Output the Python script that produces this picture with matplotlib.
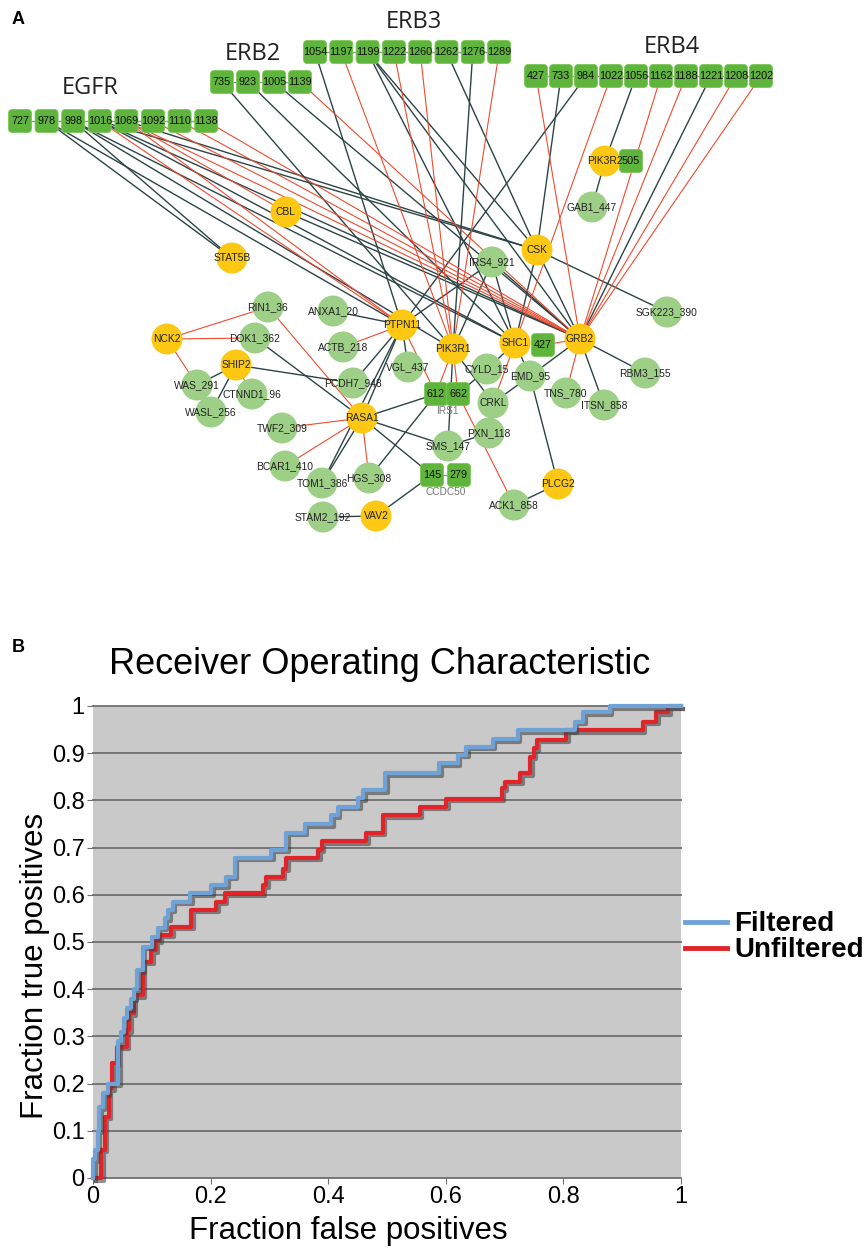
"""
Figure: (A) receptor phosphosite interaction network, (B) ROC of filtered vs unfiltered predictions.
"""
import matplotlib
matplotlib.use('Agg')
import matplotlib.pyplot as plt
import matplotlib.patheffects as pe
from matplotlib.patches import Circle, FancyBboxPatch

# ---------------------------------------------------------------
# Data: ROC curves (fpr where each tpr level starts, steps-post)
# ---------------------------------------------------------------
filt_fpr = [0, 0.0, 0.004, 0.008, 0.011, 0.017, 0.025, 0.043, 0.047, 0.052,
            0.057, 0.065, 0.070, 0.075, 0.085, 0.100, 0.110, 0.122, 0.128, 0.136,
            0.165, 0.201, 0.227, 0.241, 0.303, 0.329, 0.360, 0.405, 0.416, 0.451,
            0.460, 0.497, 0.589, 0.620, 0.635, 0.680, 0.722, 0.819, 0.834, 0.879, 1.0]
filt_tpr = [0, 0.04, 0.06, 0.10, 0.15, 0.18, 0.20, 0.29, 0.31, 0.34,
            0.36, 0.38, 0.40, 0.44, 0.49, 0.51, 0.53, 0.55, 0.568, 0.585,
            0.603, 0.62, 0.638, 0.678, 0.695, 0.731, 0.749, 0.769, 0.787, 0.805,
            0.822, 0.857, 0.879, 0.897, 0.914, 0.93, 0.949, 0.967, 0.987, 1.0, 1.0]

unfilt_fpr = [0, 0.014, 0.020, 0.027, 0.033, 0.040, 0.057, 0.062, 0.069, 0.085,
              0.099, 0.107, 0.113, 0.133, 0.167, 0.210, 0.224, 0.289, 0.295, 0.323,
              0.329, 0.383, 0.389, 0.465, 0.493, 0.556, 0.601, 0.695, 0.700, 0.727,
              0.744, 0.750, 0.755, 0.805, 0.935, 0.958, 0.978, 1.0]
unfilt_tpr = [0, 0.06, 0.13, 0.19, 0.243, 0.278, 0.313, 0.349, 0.387, 0.458,
              0.483, 0.504, 0.515, 0.532, 0.568, 0.585, 0.603, 0.62, 0.638, 0.655,
              0.678, 0.695, 0.713, 0.731, 0.769, 0.787, 0.804, 0.826, 0.840, 0.857,
              0.893, 0.91, 0.928, 0.949, 0.967, 0.987, 1.0, 1.0]

y_ticks = [0, 0.1, 0.2, 0.3, 0.4, 0.5, 0.6, 0.7, 0.8, 0.9, 1]
y_ticklabels = ['0', '0.1', '0.2', '0.3', '0.4', '0.5', '0.6', '0.7', '0.8', '0.9', '1']
x_ticks = [0, 0.2, 0.4, 0.6, 0.8, 1]
x_ticklabels = ['0', '0.2', '0.4', '0.6', '0.8', '1']

# ---------------------------------------------------------------
# Data: network
# ---------------------------------------------------------------
receptors = ['EGFR', 'ERB2', 'ERB3', 'ERB4']
egfr_sites = ['727', '978', '998', '1016', '1069', '1092', '1110', '1138']
erb2_sites = ['735', '923', '1005', '1139']
erb3_sites = ['1054', '1197', '1199', '1222', '1260', '1262', '1276', '1289']
erb4_sites = ['427', '733', '984', '1022', '1056', '1162', '1188', '1221', '1208', '1202']

hub_nodes = ['CBL', 'STAT5B', 'CSK', 'PIK3R2', 'PTPN11', 'PIK3R1', 'SHC1', 'GRB2',
             'NCK2', 'SHIP2', 'RASA1', 'VAV2', 'PLCG2']
partner_nodes = ['GAB1_447', 'IRS4_921', 'SGK223_390', 'RIN1_36', 'ANXA1_20', 'DOK1_362',
                 'ACTB_218', 'VGL_437', 'PCDH7_948', 'CYLD_15', 'EMD_95', 'RBM3_155',
                 'TNS_780', 'ITSN_858', 'CRKL', 'PXN_118', 'SMS_147', 'WAS_291',
                 'CTNND1_96', 'WASL_256', 'TWF2_309', 'BCAR1_410', 'TOM1_386', 'HGS_308',
                 'STAM2_192', 'ACK1_858']
site_nodes = ['PIK3R2_505', 'SHC1_427', 'IRS1_612', 'IRS1_662', 'CCDC50_145', 'CCDC50_279']
site_groups = [('IRS1', 'IRS1_612', 'IRS1_662'), ('CCDC50', 'CCDC50_145', 'CCDC50_279')]

dark_edges = [
    ('EGFR_978', 'STAT5B'), ('EGFR_998', 'STAT5B'), ('EGFR_978', 'PTPN11'),
    ('EGFR_998', 'SHC1'), ('EGFR_998', 'PIK3R1'), ('EGFR_1016', 'SHC1'),
    ('EGFR_1016', 'GRB2'), ('EGFR_1016', 'CSK'), ('EGFR_1069', 'CSK'),
    ('ERB2_735', 'PIK3R1'), ('ERB2_923', 'SHC1'), ('ERB2_1005', 'GRB2'),
    ('ERB3_1054', 'PTPN11'), ('ERB3_1199', 'SHC1'), ('ERB3_1199', 'GRB2'),
    ('ERB3_1199', 'CSK'), ('ERB3_1262', 'CSK'), ('ERB3_1276', 'PIK3R1'),
    ('ERB4_733', 'CSK'), ('ERB4_984', 'PTPN11'), ('ERB4_1056', 'PIK3R2'),
    ('ERB4_1221', 'GRB2'),
    ('CBL', 'GRB2'), ('PIK3R2', 'GAB1_447'), ('CSK', 'SGK223_390'), ('CSK', 'GRB2'),
    ('CSK', 'SHC1'), ('IRS4_921', 'SHC1'), ('IRS4_921', 'GRB2'), ('IRS4_921', 'PTPN11'),
    ('IRS4_921', 'PIK3R1'), ('SHC1', 'CYLD_15'), ('SHC1', 'EMD_95'), ('GRB2', 'EMD_95'),
    ('GRB2', 'ITSN_858'), ('GRB2', 'RBM3_155'), ('PIK3R1', 'CRKL'), ('PIK3R1', 'SMS_147'),
    ('IRS1_662', 'CYLD_15'), ('IRS1_612', 'RASA1'), ('IRS1_612', 'HGS_308'),
    ('PTPN11', 'ANXA1_20'), ('PTPN11', 'VGL_437'), ('PTPN11', 'PCDH7_948'),
    ('PTPN11', 'RASA1'), ('PTPN11', 'TOM1_386'), ('RASA1', 'TOM1_386'),
    ('RASA1', 'SMS_147'), ('RASA1', 'CCDC50_145'), ('RASA1', 'DOK1_362'),
    ('VAV2', 'CCDC50_145'), ('STAM2_192', 'VAV2'), ('CRKL', 'PXN_118'), ('CRKL', 'EMD_95'),
    ('EMD_95', 'PLCG2'), ('PLCG2', 'ACK1_858'), ('SHIP2', 'WAS_291'), ('SHIP2', 'WASL_256'),
    ('SHIP2', 'PCDH7_948'), ('PXN_118', 'SMS_147'),
]
red_edges = [
    ('EGFR_1016', 'PTPN11'), ('EGFR_1069', 'PTPN11'), ('EGFR_1069', 'CBL'),
    ('EGFR_1069', 'GRB2'), ('EGFR_1092', 'GRB2'), ('EGFR_1110', 'GRB2'),
    ('EGFR_1138', 'GRB2'), ('ERB2_1139', 'GRB2'),
    ('ERB3_1197', 'PIK3R1'), ('ERB3_1222', 'PIK3R1'), ('ERB3_1260', 'PIK3R1'),
    ('ERB3_1289', 'PIK3R1'),
    ('ERB4_427', 'GRB2'), ('ERB4_1022', 'SHC1'), ('ERB4_1162', 'GRB2'),
    ('ERB4_1188', 'GRB2'), ('ERB4_1208', 'GRB2'), ('ERB4_1202', 'GRB2'),
    ('SHC1_427', 'GRB2'), ('SHC1', 'CRKL'), ('GRB2', 'TNS_780'),
    ('PIK3R1', 'IRS1_612'), ('PIK3R1', 'IRS1_662'), ('PTPN11', 'IRS1_612'),
    ('PTPN11', 'ACTB_218'), ('IRS1_662', 'ACK1_858'),
    ('RASA1', 'TWF2_309'), ('RASA1', 'BCAR1_410'), ('RASA1', 'HGS_308'),
    ('RASA1', 'RIN1_36'), ('NCK2', 'WAS_291'), ('NCK2', 'RIN1_36'),
    ('NCK2', 'DOK1_362'), ('SHIP2', 'CTNND1_96'),
]

# ---------------------------------------------------------------
# Layout (pixel coordinates of the network panel)
# ---------------------------------------------------------------
row_layout = {  # x of first site, spacing, y
    'EGFR': (20, 26.6, 121), 'ERB2': (222, 26.0, 82),
    'ERB3': (315, 26.3, 52), 'ERB4': (536, 25.0, 76),
}
receptor_label_pos = {'EGFR': (90, 88), 'ERB2': (253, 54), 'ERB3': (414, 22), 'ERB4': (672, 47)}
pos = {
    'CBL': (286, 212), 'STAT5B': (232, 258), 'CSK': (537, 250), 'PIK3R2': (605, 161),
    'GAB1_447': (592, 207), 'IRS4_921': (492, 262), 'SGK223_390': (667, 312),
    'PTPN11': (402, 325), 'PIK3R1': (453, 349), 'SHC1': (515, 343), 'GRB2': (580, 339),
    'RIN1_36': (268, 307), 'ANXA1_20': (333, 311), 'NCK2': (167, 339), 'DOK1_362': (255, 338),
    'ACTB_218': (343, 347), 'SHIP2': (236, 365), 'VGL_437': (408, 367), 'PCDH7_948': (353, 383),
    'CYLD_15': (487, 369), 'EMD_95': (530, 376), 'RBM3_155': (645, 373), 'TNS_780': (566, 393),
    'ITSN_858': (604, 405), 'CRKL': (493, 403), 'PXN_118': (489, 433), 'SMS_147': (448, 446),
    'WAS_291': (197, 385), 'CTNND1_96': (252, 394), 'WASL_256': (211, 412), 'RASA1': (362, 418),
    'TWF2_309': (282, 428), 'BCAR1_410': (285, 466), 'TOM1_386': (322, 483), 'HGS_308': (369, 478),
    'STAM2_192': (323, 517), 'VAV2': (376, 516), 'PLCG2': (558, 484), 'ACK1_858': (514, 505),
    'PIK3R2_505': (631, 161), 'SHC1_427': (543, 345), 'IRS1_612': (436, 394),
    'IRS1_662': (458, 394), 'CCDC50_145': (432, 475), 'CCDC50_279': (459, 475),
}
site_lists = {'EGFR': egfr_sites, 'ERB2': erb2_sites, 'ERB3': erb3_sites, 'ERB4': erb4_sites}
for rec in receptors:
    x0, dx, y = row_layout[rec]
    for i, s in enumerate(site_lists[rec]):
        pos[f'{rec}_{s}'] = (x0 + i * dx, y)

YELLOW = '#fcc814'
LIGHT_GREEN = '#9dcf87'
BOX_GREEN = '#5fb53b'
DARK_EDGE = '#2c4446'
RED_EDGE = '#f04a2e'
NODE_R = 15.5
BOX = 23

fig = plt.figure(figsize=(8.68, 12.48), dpi=100)

# ═══════════════════════════════════════════════════════════
# Panel A: network
# ═══════════════════════════════════════════════════════════
net_h = 600
ax = fig.add_axes([0, 1 - net_h / 1248, 1, net_h / 1248])
ax.set_xlim(0, 868)
ax.set_ylim(net_h, 0)
ax.axis('off')

for a, b in dark_edges:
    ax.plot([pos[a][0], pos[b][0]], [pos[a][1], pos[b][1]], color=DARK_EDGE, lw=1.0, zorder=1)
for a, b in red_edges:
    ax.plot([pos[a][0], pos[b][0]], [pos[a][1], pos[b][1]], color=RED_EDGE, lw=0.8, zorder=1)

# small connectors between neighbouring sites of a protein
for rec in receptors:
    pts = [pos[f'{rec}_{s}'] for s in site_lists[rec]]
    ax.plot([p[0] for p in pts], [p[1] for p in pts], color='#8a9a8a', lw=1.0, zorder=2)
for _, a, b in site_groups:
    ax.plot([pos[a][0], pos[b][0]], [pos[a][1], pos[b][1]], color='#8a9a8a', lw=1.0, zorder=2)


def draw_box(x, y, label):
    ax.add_patch(FancyBboxPatch((x - BOX / 2 + 4, y - BOX / 2 + 4), BOX - 8, BOX - 8,
                                boxstyle='round,pad=4', fc=BOX_GREEN, ec='#7cc65a',
                                lw=0.6, zorder=4))
    ax.text(x, y, label, ha='center', va='center', fontsize=7.8, color='#111111',
            family='Liberation Sans', zorder=6)


for name in partner_nodes:
    x, y = pos[name]
    ax.add_patch(Circle((x, y), NODE_R, fc=LIGHT_GREEN, ec='none', zorder=3))
for name in hub_nodes:
    x, y = pos[name]
    ax.add_patch(Circle((x, y), NODE_R, fc=YELLOW, ec='none', zorder=3))

for rec in receptors:
    for s in site_lists[rec]:
        x, y = pos[f'{rec}_{s}']
        draw_box(x, y, s)
for name in site_nodes:
    x, y = pos[name]
    draw_box(x, y, name.split('_')[1])
for grp, a, b in site_groups:
    gx = (pos[a][0] + pos[b][0]) / 2
    gy = pos[a][1] + 17
    ax.text(gx, gy, grp, ha='center', va='center', fontsize=7.3, color='#777777',
            family='Liberation Sans', zorder=6)

for name in hub_nodes + partner_nodes:
    x, y = pos[name]
    ax.text(x, y, name, ha='center', va='center', fontsize=7.4, color='#222222',
            family='Liberation Sans', zorder=6)

for rec in receptors:
    x, y = receptor_label_pos[rec]
    ax.text(x, y, rec, ha='center', va='center', fontsize=17, color='#222222',
            family='Open Sans', zorder=6)

fig.text(12 / 868, 1 - 20 / 1248, 'A', fontsize=13, fontweight='bold',
         family='Liberation Sans', va='center', ha='left')
fig.text(12 / 868, 1 - 648 / 1248, 'B', fontsize=13, fontweight='bold',
         family='Liberation Sans', va='center', ha='left')

# ═══════════════════════════════════════════════════════════
# Panel B: ROC
# ═══════════════════════════════════════════════════════════
left, right, top, bottom = 93, 681, 706, 1178
ax2 = fig.add_axes([left / 868, 1 - bottom / 1248, (right - left) / 868, (bottom - top) / 1248])
ax2.set_facecolor('#c9c9c9')
ax2.set_xlim(0, 1)
ax2.set_ylim(0, 1)
for yt in y_ticks:
    ax2.axhline(yt, color='#6f6f6f', lw=1.3, zorder=1, clip_on=False)

shadow = [pe.SimpleLineShadow(offset=(1.8, -1.8), shadow_color='#3a3a3a', alpha=0.55),
          pe.Normal()]
ax2.plot(unfilt_fpr, unfilt_tpr, drawstyle='steps-post', color='#e0242a', lw=3.0,
         label='Unfiltered', zorder=3, clip_on=False, path_effects=shadow)
ax2.plot(filt_fpr, filt_tpr, drawstyle='steps-post', color='#6fa3d8', lw=3.0,
         label='Filtered', zorder=4, clip_on=False, path_effects=shadow)

for s in ax2.spines.values():
    s.set_visible(False)
ax2.set_xticks(x_ticks)
ax2.set_xticklabels(x_ticklabels)
ax2.set_yticks(y_ticks)
ax2.set_yticklabels(y_ticklabels)
ax2.tick_params(axis='both', labelsize=17, length=4, color='#6f6f6f', pad=2)
for lab in ax2.get_xticklabels() + ax2.get_yticklabels():
    lab.set_family('Liberation Sans')
ax2.set_xlabel('Fraction false positives', fontsize=22.5, family='Liberation Sans')
ax2.set_ylabel('Fraction true positives', fontsize=22.5, family='Liberation Sans')
ax2.xaxis.set_label_coords((348 - left) / (right - left), (bottom - 1216) / (bottom - top))
ax2.yaxis.set_label_coords((50 - left) / (right - left), (bottom - 966) / (bottom - top))
fig.text(380 / 868, 1 - 665 / 1248, 'Receiver Operating Characteristic', fontsize=26,
         family='Liberation Sans', ha='center', va='center')

handles, labels = ax2.get_legend_handles_labels()
leg = ax2.legend(handles[::-1], labels[::-1], loc='center left', bbox_to_anchor=(1.0, 0.51),
                 frameon=False, handlelength=1.5, handletextpad=0.28, labelspacing=0.0,
                 borderpad=0.0, borderaxespad=0.15,
                 prop={'family': 'Liberation Sans', 'weight': 'bold', 'size': 20})
for line in leg.get_lines():
    line.set_linewidth(3.5)
    line.set_path_effects([])

fig.savefig('out.png', dpi=100, facecolor='white')
